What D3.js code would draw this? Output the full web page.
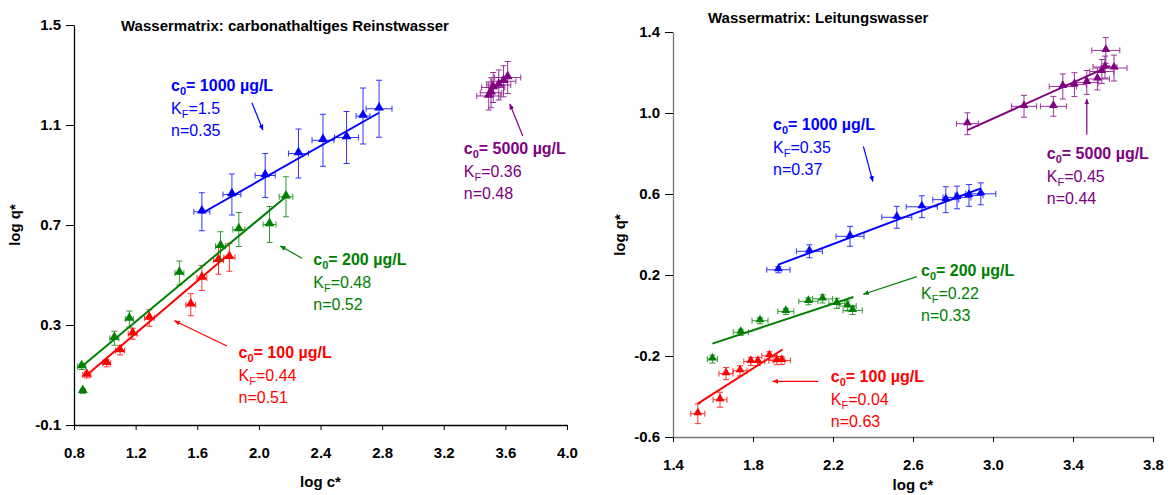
<!DOCTYPE html>
<html>
<head>
<meta charset="utf-8">
<script src="https://cdn.jsdelivr.net/npm/d3@7"></script>
<style>
  body { margin: 0; background: #fff; }
  svg text { font-family: "Liberation Sans", Arial, sans-serif; }
</style>
</head>
<body>
<svg id="chart" width="1168" height="495"></svg>
<script>
// each point: [log c*, log q*, error in log c*, error in log q*]
var left_100 = [
  [0.883, 0.100, 0.026, 0.012], [1.012, 0.147, 0.026, 0.014], [1.099, 0.198, 0.029, 0.018],
  [1.181, 0.265, 0.029, 0.022], [1.289, 0.328, 0.032, 0.033], [1.558, 0.381, 0.032, 0.044],
  [1.630, 0.488, 0.032, 0.050], [1.738, 0.559, 0.032, 0.056], [1.809, 0.571, 0.036, 0.056]
];
var left_200 = [
  [0.850, 0.134, 0.026, 0.012], [0.857, 0.035, 0.013, 0.008], [1.062, 0.247, 0.029, 0.028],
  [1.159, 0.324, 0.026, 0.032], [1.484, 0.508, 0.029, 0.048], [1.751, 0.615, 0.032, 0.058],
  [1.870, 0.682, 0.039, 0.068], [2.069, 0.702, 0.042, 0.072], [2.176, 0.813, 0.044, 0.080]
];
var left_1000 = [
  [1.630, 0.753, 0.052, 0.076], [1.825, 0.822, 0.058, 0.082], [2.041, 0.898, 0.065, 0.088],
  [2.257, 0.986, 0.065, 0.098], [2.416, 1.039, 0.071, 0.104], [2.569, 1.050, 0.078, 0.104],
  [2.676, 1.136, 0.045, 0.112], [2.780, 1.165, 0.084, 0.114]
];
var left_5000 = [
  [3.492, 1.216, 0.078, 0.056], [3.507, 1.229, 0.070, 0.060], [3.521, 1.250, 0.075, 0.060],
  [3.557, 1.260, 0.078, 0.060], [3.588, 1.275, 0.080, 0.062], [3.615, 1.290, 0.085, 0.064]
];

var right_100 = [
  [1.524, -0.485, 0.035, 0.049], [1.635, -0.416, 0.035, 0.037], [1.665, -0.287, 0.035, 0.030],
  [1.735, -0.273, 0.035, 0.025], [1.789, -0.227, 0.035, 0.020], [1.824, -0.227, 0.035, 0.020],
  [1.882, -0.199, 0.038, 0.020], [1.919, -0.223, 0.040, 0.020], [1.944, -0.222, 0.043, 0.020]
];
var right_200 = [
  [1.597, -0.215, 0.025, 0.020], [1.739, -0.083, 0.038, 0.015], [1.835, -0.026, 0.040, 0.015],
  [1.964, 0.020, 0.040, 0.015], [2.077, 0.070, 0.048, 0.017], [2.148, 0.082, 0.050, 0.020],
  [2.219, 0.060, 0.040, 0.025], [2.273, 0.047, 0.043, 0.025], [2.298, 0.025, 0.048, 0.020]
];
var right_1000 = [
  [1.927, 0.226, 0.058, 0.015], [2.082, 0.317, 0.065, 0.032], [2.285, 0.391, 0.070, 0.049],
  [2.519, 0.485, 0.075, 0.054], [2.644, 0.537, 0.078, 0.054], [2.764, 0.572, 0.065, 0.064],
  [2.820, 0.583, 0.070, 0.056], [2.880, 0.593, 0.070, 0.054], [2.939, 0.601, 0.075, 0.054]
];
var right_5000 = [
  [2.872, 0.947, 0.055, 0.054], [3.155, 1.033, 0.063, 0.054], [3.302, 1.033, 0.065, 0.049],
  [3.349, 1.131, 0.068, 0.062], [3.407, 1.140, 0.060, 0.059], [3.469, 1.151, 0.060, 0.059],
  [3.522, 1.168, 0.060, 0.054], [3.544, 1.205, 0.060, 0.059], [3.560, 1.227, 0.060, 0.054],
  [3.605, 1.222, 0.065, 0.064], [3.564, 1.309, 0.070, 0.064]
];

// fitted Freundlich lines, start and end point
var left_fits = [
  [[0.883, 0.100], [1.814, 0.588]],
  [[0.850, 0.134], [2.176, 0.813]],
  [[1.630, 0.747], [2.780, 1.149]],
  [[3.490, 1.231], [3.620, 1.294]]
];
var right_fits = [
  [[1.524, -0.435], [1.948, -0.168]],
  [[1.597, -0.139], [2.302, 0.091]],
  [[1.927, 0.251], [2.939, 0.628]],
  [[2.872, 0.915], [3.585, 1.233]]
];

var conc_labels = ["100", "200", "1000", "5000"];
var left_KF = ["0.44", "0.48", "1.5", "0.36"];
var left_n = ["0.51", "0.52", "0.35", "0.48"];
var right_KF = ["0.04", "0.22", "0.35", "0.45"];
var right_n = ["0.63", "0.33", "0.37", "0.44"];

var left_x_ticks = [0.8, 1.2, 1.6, 2.0, 2.4, 2.8, 3.2, 3.6, 4.0];
var left_y_ticks = [-0.1, 0.3, 0.7, 1.1, 1.5];
var right_x_ticks = [1.4, 1.8, 2.2, 2.6, 3.0, 3.4, 3.8];
var right_y_ticks = [-0.6, -0.2, 0.2, 0.6, 1.0, 1.4];

var COLORS = ["#ff0000", "#008000", "#0000ff", "#800080"];

var svg = d3.select("#chart");

// arrow heads, one per colour
var defs = svg.append("defs");
COLORS.forEach(function(c, i) {
  defs.append("marker")
      .attr("id", "arrow" + i)
      .attr("viewBox", "0 0 10 10")
      .attr("refX", 9).attr("refY", 5)
      .attr("markerWidth", 5).attr("markerHeight", 5)
      .attr("orient", "auto")
    .append("path")
      .attr("d", "M0,1 L10,5 L0,9 Z")
      .attr("fill", c);
});

function fmt(d) { return d.toFixed(1); }

function drawPanel(cfg) {
  var x = d3.scaleLinear().domain(cfg.xDomain).range(cfg.xRange);
  var y = d3.scaleLinear().domain(cfg.yDomain).range(cfg.yRange);
  var g = svg.append("g");

  // axes
  var xAxis = g.append("g")
      .attr("transform", "translate(0," + cfg.yRange[0] + ")")
      .call(d3.axisBottom(x).tickValues(cfg.xTicks).tickFormat(fmt)
              .tickSize(5).tickSizeOuter(0).tickPadding(17));
  var yAxis = g.append("g")
      .attr("transform", "translate(" + cfg.xRange[0] + ",0)")
      .call(d3.axisLeft(y).tickValues(cfg.yTicks).tickFormat(fmt)
              .tickSize(8).tickSizeOuter(0).tickPadding(5));
  [xAxis, yAxis].forEach(function(a) {
    a.selectAll("text").style("font-size", "15px").style("font-weight", "bold").attr("fill", "#000");
    a.selectAll("line").attr("stroke", "#000");
    a.select(".domain").attr("stroke", cfg.axisColor).attr("stroke-width", 1.3);
  });

  // title and axis labels
  g.append("text")
      .attr("x", cfg.title[1]).attr("y", cfg.title[2])
      .style("font-size", "15px").style("font-weight", "bold")
      .text(cfg.title[0]);
  g.append("text")
      .attr("x", (cfg.xRange[0] + cfg.xRange[1]) / 2 + cfg.xLabelShift)
      .attr("y", cfg.xLabelY)
      .attr("text-anchor", "middle")
      .style("font-size", "15px").style("font-weight", "bold")
      .text("log c*");
  g.append("text")
      .attr("transform", "translate(" + cfg.yLabelX + "," + cfg.yLabelY + ") rotate(-90)")
      .attr("text-anchor", "middle")
      .style("font-size", "15px").style("font-weight", "bold")
      .text("log q*");

  cfg.series.forEach(function(data, i) {
    var col = COLORS[i];
    var sg = g.append("g");

    // error bars
    var eb = sg.selectAll(".err").data(data).enter().append("g")
        .attr("stroke", col).attr("stroke-width", 1).attr("opacity", 0.8);
    eb.append("line")
        .attr("x1", function(d) { return x(d[0] - d[2]); })
        .attr("x2", function(d) { return x(d[0] + d[2]); })
        .attr("y1", function(d) { return y(d[1]); })
        .attr("y2", function(d) { return y(d[1]); });
    eb.append("line")
        .attr("x1", function(d) { return x(d[0]); })
        .attr("x2", function(d) { return x(d[0]); })
        .attr("y1", function(d) { return y(d[1] - d[3]); })
        .attr("y2", function(d) { return y(d[1] + d[3]); });
    [-1, 1].forEach(function(s) {
      eb.append("line")
          .attr("x1", function(d) { return x(d[0] + s * d[2]); })
          .attr("x2", function(d) { return x(d[0] + s * d[2]); })
          .attr("y1", function(d) { return y(d[1]) - 3; })
          .attr("y2", function(d) { return y(d[1]) + 3; });
      eb.append("line")
          .attr("x1", function(d) { return x(d[0]) - 3; })
          .attr("x2", function(d) { return x(d[0]) + 3; })
          .attr("y1", function(d) { return y(d[1] + s * d[3]); })
          .attr("y2", function(d) { return y(d[1] + s * d[3]); });
    });

    // fit line
    sg.append("path")
        .datum(cfg.fits[i])
        .attr("d", d3.line().x(function(d) { return x(d[0]); }).y(function(d) { return y(d[1]); }))
        .attr("fill", "none").attr("stroke", col).attr("stroke-width", 2);

    // markers
    sg.selectAll(".pt").data(data).enter().append("path")
        .attr("d", d3.symbol().type(d3.symbolTriangle).size(cfg.markerSize))
        .attr("transform", function(d) { return "translate(" + x(d[0]) + "," + (y(d[1]) - 1) + ")"; })
        .attr("fill", col);

    // annotation
    var a = cfg.notes[i];
    var tx = x(a.pos[0]), ty = y(a.pos[1]);
    var t1 = sg.append("text").attr("x", tx).attr("y", ty).attr("fill", col)
        .style("font-size", "16px").style("font-weight", "bold");
    t1.append("tspan").text("c");
    t1.append("tspan").attr("dy", 4).style("font-size", "11px").text("0");
    t1.append("tspan").attr("dy", -4).text("= " + conc_labels[i] + " \u00b5g/L");
    var t2 = sg.append("text").attr("x", tx).attr("y", ty + 23).attr("fill", col)
        .style("font-size", "16px");
    t2.append("tspan").text("K");
    t2.append("tspan").attr("dy", 4).style("font-size", "11px").text("F");
    t2.append("tspan").attr("dy", -4).text("=" + cfg.KF[i]);
    sg.append("text").attr("x", tx).attr("y", ty + 45).attr("fill", col)
        .style("font-size", "16px")
        .text("n=" + cfg.n[i]);

    sg.append("line")
        .attr("x1", x(a.arrow[0])).attr("y1", y(a.arrow[1]))
        .attr("x2", x(a.arrow[2])).attr("y2", y(a.arrow[3]))
        .attr("stroke", col).attr("stroke-width", 1.2)
        .attr("marker-end", "url(#arrow" + i + ")");
  });
}

drawPanel({
  xDomain: [0.8, 4.0], xRange: [74, 567],
  yDomain: [-0.1, 1.5], yRange: [425, 25],
  xTicks: left_x_ticks, yTicks: left_y_ticks,
  axisColor: "#000",
  title: ["Wassermatrix: carbonathaltiges Reinstwasser", 121, 31],
  xLabelShift: 0, xLabelY: 487,
  yLabelX: 20, yLabelY: 225,
  markerSize: 42,
  series: [left_100, left_200, left_1000, left_5000],
  fits: left_fits,
  KF: left_KF, n: left_n,
  notes: [
    { pos: [1.868, 0.168], arrow: [1.792, 0.216, 1.452, 0.317] },
    { pos: [2.353, 0.540], arrow: [2.280, 0.567, 2.139, 0.616] },
    { pos: [1.430, 1.237], arrow: [1.955, 1.189, 2.026, 1.080] },
    { pos: [3.330, 0.984], arrow: [3.713, 1.056, 3.629, 1.184] }
  ]
});

drawPanel({
  xDomain: [1.4, 3.8], xRange: [673, 1153],
  yDomain: [-0.6, 1.4], yRange: [437, 32],
  xTicks: right_x_ticks, yTicks: right_y_ticks,
  axisColor: "#777",
  title: ["Wassermatrix: Leitungswasser", 708, 23],
  xLabelShift: 0, xLabelY: 490,
  yLabelX: 625, yLabelY: 235,
  markerSize: 34,
  series: [right_100, right_200, right_1000, right_5000],
  fits: right_fits,
  KF: right_KF, n: right_n,
  notes: [
    { pos: [2.189, -0.327], arrow: [2.127, -0.325, 1.899, -0.325] },
    { pos: [2.640, 0.197], arrow: [2.619, 0.192, 2.352, 0.105] },
    { pos: [1.900, 0.918], arrow: [2.352, 0.835, 2.399, 0.662] },
    { pos: [3.269, 0.774], arrow: [3.469, 0.893, 3.469, 1.069] }
  ]
});
</script>
</body>
</html>
